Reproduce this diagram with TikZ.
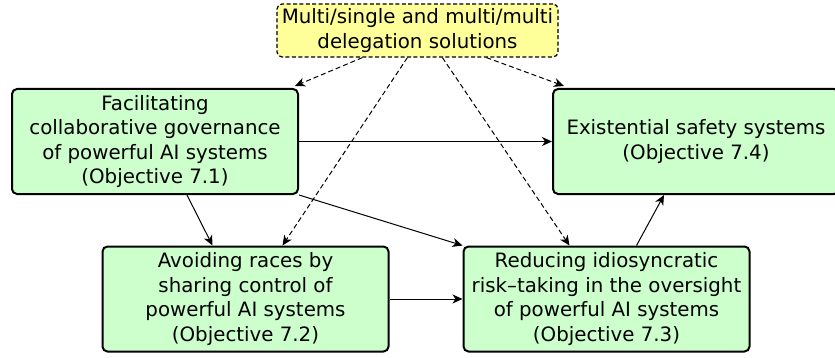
\documentclass[tikz,border=0pt]{standalone}
\usepackage{fontspec}
\setmainfont{DejaVu Sans}
\usetikzlibrary{arrows.meta}
\definecolor{boxgreen}{HTML}{CCFFCC}
\definecolor{boxyellow}{HTML}{FFFF99}
\tikzset{
  objbox/.style={draw, line width=1pt, rounded corners=2.5pt, fill=boxgreen,
    minimum width=143pt, minimum height=52.5pt, align=center,
    font=\fontsize{9.9pt}{12.2pt}\selectfont, inner sep=0pt},
  solbox/.style={objbox, dashed, dash pattern=on 2pt off 1.2pt, line width=0.6pt,
    fill=boxyellow, minimum width=140.5pt, minimum height=26.5pt},
  link/.style={-{Stealth[length=5pt,width=4.5pt,inset=1.5pt]}, line width=0.5pt},
  dlink/.style={link, dash pattern=on 2.5pt off 1.5pt}
}
\begin{document}
\begin{tikzpicture}[x=0.5pt,y=-0.5pt]
  \useasboundingbox (0,0) rectangle (835,358);
  \node[solbox] (sol) at (417.5,30.5) {Multi/single and multi/multi\\delegation solutions};
  \node[objbox] (gov) at (155,141.5) {Facilitating\\collaborative governance\\of powerful AI systems\\(Objective 7.1)};
  \node[objbox] (safe) at (696,141.5) {Existential safety systems\\(Objective 7.4)};
  \node[objbox] (race) at (245.5,299) {Avoiding races by\\sharing control of\\powerful AI systems\\(Objective 7.2)};
  \node[objbox] (risk) at (606.5,299) {Reducing idiosyncratic\\risk–taking in the oversight\\of powerful AI systems\\(Objective 7.3)};
  % dashed links from the delegation box
  \draw[dlink] ([xshift=43pt]sol.south west) -- ([xshift=-2pt,yshift=1pt]gov.north east);
  \draw[dlink] ([xshift=65.5pt]sol.south west) -- ([xshift=90.5pt]race.north west);
  \draw[dlink] ([xshift=83pt]sol.south west) -- ([xshift=53.5pt]risk.north west);
  \draw[dlink] ([xshift=105pt]sol.south west) -- ([xshift=6pt,yshift=1pt]safe.north west);
  % solid links
  \draw[link] (gov.east) -- (safe.west);
  \draw[link] ([xshift=88pt]gov.south west) -- ([xshift=55.5pt]race.north west);
  \draw[link] (gov.south east) -- (risk.north west);
  \draw[link] (race.east) -- (risk.west);
  \draw[link] ([xshift=87pt]risk.north west) -- ([xshift=56pt]safe.south west);
\end{tikzpicture}
\end{document}
